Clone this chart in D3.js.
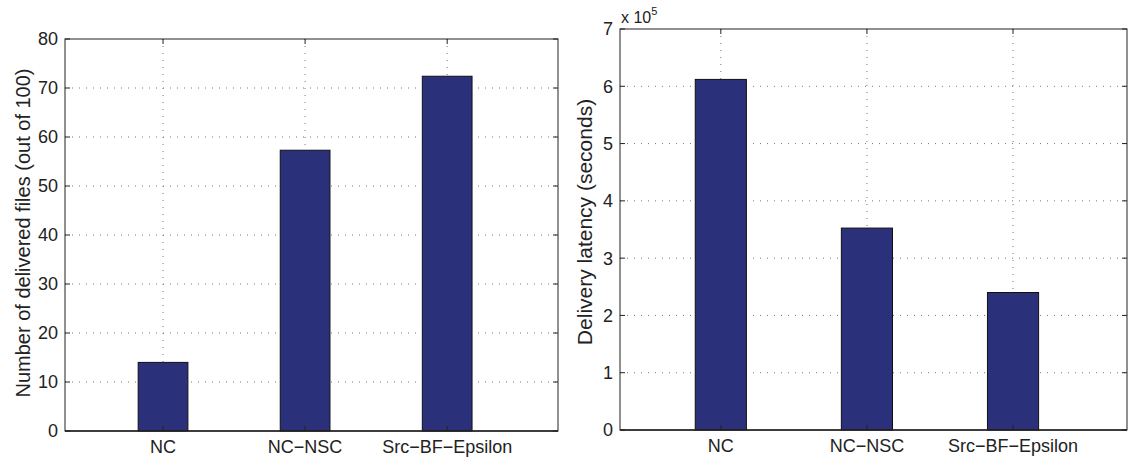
<!DOCTYPE html>
<html><head><meta charset="utf-8">
<script src="https://cdn.jsdelivr.net/npm/d3@7"></script>
<style>body{margin:0;background:#fff}svg text{font-family:"Liberation Sans",Arial,sans-serif;fill:#222}</style>
</head><body><svg id="c" width="1135" height="459"></svg>
<script>
const categories = ["NC", "NC\u2212NSC", "Src\u2212BF\u2212Epsilon"];
const deliveredFiles = [14, 57.3, 72.4];
const latency = [6.12, 3.525, 2.40]; // x 10^5 seconds
const leftTicks = [0,10,20,30,40,50,60,70,80];
const rightTicks = [0,1,2,3,4,5,6,7];

const svg = d3.select("#c");
const barColor = "#2b307a";

function panel(o){
  const g = svg.append("g");
  const x = d3.scaleLinear().domain([0.31, 3.78]).range([o.x0, o.x1]);
  const y = d3.scaleLinear().domain(o.ydom).range([o.y1, o.y0]);
  const bw = (x(1.35)-x(1));
  g.selectAll(".hg").data(o.ticks.filter(t=>t>o.ydom[0]&&t<o.ydom[1])).join("line")
    .attr("x1",o.x0).attr("x2",o.x1).attr("y1",d=>y(d)).attr("y2",d=>y(d))
    .attr("stroke","#777").attr("stroke-width",1).attr("stroke-dasharray","1,6");
  g.selectAll(".vg").data(categories.map((c,i)=>i+1)).join("line")
    .attr("y1",o.y0).attr("y2",o.y1).attr("x1",d=>x(d)).attr("x2",d=>x(d))
    .attr("stroke","#777").attr("stroke-width",1).attr("stroke-dasharray","1,6");
  g.selectAll("rect.bar").data(o.values).join("rect").attr("class","bar")
    .attr("x",(d,i)=>x(i+1)-bw/2).attr("width",bw)
    .attr("y",d=>y(d)).attr("height",d=>y(0)-y(d))
    .attr("fill",barColor).attr("stroke","#111").attr("stroke-width",1);
  const tl = 5;
  o.ticks.forEach(t=>{
    g.append("line").attr("x1",o.x0).attr("x2",o.x0+tl).attr("y1",y(t)).attr("y2",y(t)).attr("stroke","#222");
    g.append("line").attr("x1",o.x1).attr("x2",o.x1-tl).attr("y1",y(t)).attr("y2",y(t)).attr("stroke","#222");
  });
  categories.forEach((c,i)=>{
    g.append("line").attr("x1",x(i+1)).attr("x2",x(i+1)).attr("y1",o.y1).attr("y2",o.y1-tl).attr("stroke","#222");
    g.append("line").attr("x1",x(i+1)).attr("x2",x(i+1)).attr("y1",o.y0).attr("y2",o.y0+tl).attr("stroke","#222");
  });
  g.append("rect").attr("x",o.x0).attr("y",o.y0).attr("width",o.x1-o.x0).attr("height",o.y1-o.y0)
    .attr("fill","none").attr("stroke","#222").attr("stroke-width",1);
  g.append("line").attr("x1",o.x0).attr("x2",o.x1).attr("y1",o.y1).attr("y2",o.y1).attr("stroke","#222").attr("stroke-width",1.6);
  g.selectAll("text.yt").data(o.ticks).join("text").attr("class","yt")
    .attr("x",o.x0-7).attr("y",d=>y(d)).attr("dy","0.36em").attr("text-anchor","end")
    .attr("font-size",18).text(d=>d);
  g.selectAll("text.xt").data(categories).join("text").attr("class","xt")
    .attr("x",(d,i)=>x(i+1)).attr("y",o.y1+22).attr("text-anchor","middle")
    .attr("font-size",18).text(d=>d);
  g.append("text").attr("transform",`translate(${o.lx},${o.ly}) rotate(-90)`)
    .attr("text-anchor","middle").attr("font-size",o.lfs).text(o.label);
  return {x,y};
}

panel({x0:65,x1:558,y0:39,y1:431,ydom:[0,80],ticks:leftTicks,values:deliveredFiles,
  label:"Number of delivered files (out of 100)",lx:30,ly:233,lfs:20});
panel({x0:620,x1:1127,y0:29,y1:430,ydom:[0,7],ticks:rightTicks,values:latency,
  label:"Delivery latency (seconds)",lx:592,ly:222,lfs:21});

const ex = svg.append("text").attr("x",621).attr("y",23).attr("font-size",16);
ex.append("tspan").text("x 10");
ex.append("tspan").attr("font-size",11).attr("dy",-8).text("5");
</script></body></html>
